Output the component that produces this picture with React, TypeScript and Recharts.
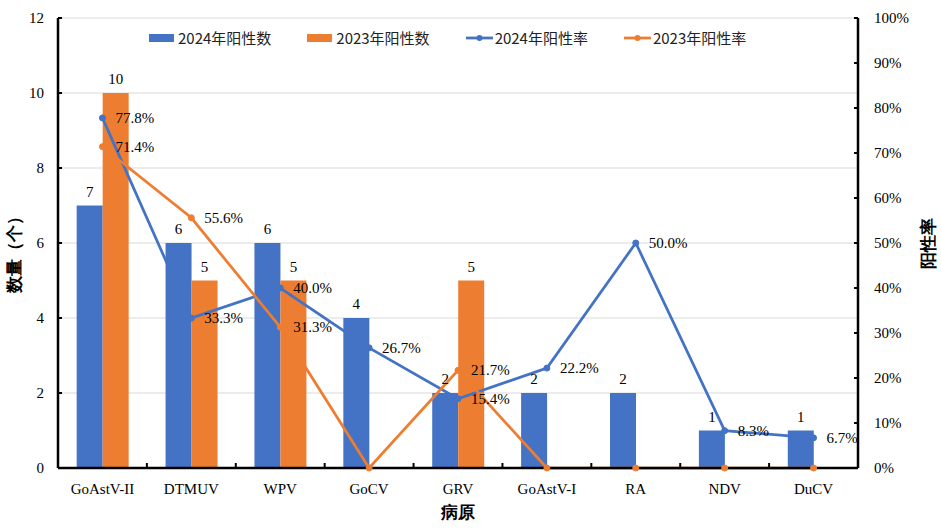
import React from 'react';
import { ComposedChart, Bar, Line, XAxis, YAxis, CartesianGrid, LabelList } from 'recharts';

const categories = ['GoAstV-II', 'DTMUV', 'WPV', 'GoCV', 'GRV', 'GoAstV-I', 'RA', 'NDV', 'DuCV'];
const count2024 = [7, 6, 6, 4, 2, 2, 2, 1, 1];
const count2023 = [10, 5, 5, 0, 5, 0, 0, 0, 0];
const rate2024 = [77.8, 33.3, 40.0, 26.7, 15.4, 22.2, 50.0, 8.3, 6.7];
const rate2023 = [71.4, 55.6, 31.3, 0, 21.7, 0, 0, 0, 0];
const countTicks = [0, 2, 4, 6, 8, 10, 12];
const rateTicks = [0, 10, 20, 30, 40, 50, 60, 70, 80, 90, 100];

const names = {
  c24: '2024年阳性数',
  c23: '2023年阳性数',
  r24: '2024年阳性率',
  r23: '2023年阳性率',
};

const data = categories.map((name, i) => ({
  name,
  c24: count2024[i],
  c23: count2023[i],
  r24: rate2024[i],
  r23: rate2023[i],
}));

const BLUE = '#4472C4';
const ORANGE = '#ED7D31';
const SERIF = '"Liberation Serif", "Times New Roman", serif';
const SANS = '"Noto Sans CJK SC", "Noto Sans", sans-serif';
const HALF_BAND = 800 / 18;

const LeftTick = (props: any) => {
  const { x, y, payload } = props;
  return (
    <g>
      <line x1={x} x2={x + 4} y1={y} y2={y} stroke="#000" strokeWidth={2} />
      <text x={x - 14} y={y + 5} textAnchor="end" style={{ fontFamily: SERIF, fontSize: 15 }} fill="#000">
        {payload.value}
      </text>
    </g>
  );
};

const RightTick = (props: any) => {
  const { x, y, payload } = props;
  return (
    <g>
      <line x1={x - 4} x2={x} y1={y} y2={y} stroke="#000" strokeWidth={2} />
      <text x={x + 16} y={y + 5} textAnchor="start" style={{ fontFamily: SERIF, fontSize: 15 }} fill="#000">
        {payload.value + '%'}
      </text>
    </g>
  );
};

const XTick = (props: any) => {
  const { x, y, payload, index } = props;
  return (
    <g>
      {index < categories.length - 1 && (
        <line x1={x + HALF_BAND} x2={x + HALF_BAND} y1={y} y2={y - 5} stroke="#000" strokeWidth={2} />
      )}
      <text x={x} y={y + 26} textAnchor="middle" style={{ fontFamily: SERIF, fontSize: 15 }} fill="#000">
        {payload.value}
      </text>
    </g>
  );
};

const BarLabel = (props: any) => {
  const { x, y, width, value } = props;
  if (!value) return null;
  return (
    <text x={x + width / 2} y={y - 9} textAnchor="middle" style={{ fontFamily: SERIF, fontSize: 15 }} fill="#000">
      {value}
    </text>
  );
};

const RateLabel = (props: any) => {
  const { x, y, value } = props;
  if (!value) return null;
  return (
    <text x={x + 13} y={y + 5} textAnchor="start" style={{ fontFamily: SERIF, fontSize: 15 }} fill="#000">
      {Number(value).toFixed(1) + '%'}
    </text>
  );
};

const LegendBox = () => {
  const items = [
    { key: 'c24', color: BLUE, type: 'rect' },
    { key: 'c23', color: ORANGE, type: 'rect' },
    { key: 'r24', color: BLUE, type: 'line' },
    { key: 'r23', color: ORANGE, type: 'line' },
  ];
  return (
    <div
      style={{
        position: 'absolute',
        left: 149,
        top: 28,
        display: 'flex',
        alignItems: 'center',
        fontFamily: SANS,
        fontSize: 15,
        color: '#222',
      }}
    >
      {items.map((it) => (
        <div key={it.key} style={{ display: 'flex', alignItems: 'center', marginRight: 36 }}>
          <svg width={27} height={12} style={{ marginRight: 2 }}>
            {it.type === 'rect' ? (
              <rect x={0} y={2} width={25} height={8} fill={it.color} />
            ) : (
              <g>
                <line x1={0} x2={27} y1={6} y2={6} stroke={it.color} strokeWidth={2.75} />
                <circle cx={13.5} cy={6} r={3} fill={it.color} />
              </g>
            )}
          </svg>
          <span style={{ lineHeight: '20px' }}>{(names as any)[it.key]}</span>
        </div>
      ))}
    </div>
  );
};

const titleStyle: React.CSSProperties = {
  position: 'absolute',
  fontFamily: SERIF,
  fontWeight: 'bold',
  fontSize: 17,
  whiteSpace: 'nowrap',
  color: '#000',
};

export default function App() {
  return (
    <div style={{ position: 'absolute', left: 0, top: 0, width: 941, height: 528, background: '#fff' }}>
      <ComposedChart
        width={941}
        height={528}
        data={data}
        margin={{ top: 18, right: 0, bottom: 0, left: 0 }}
        barGap={0}
        barCategoryGap="21%"
      >
        <CartesianGrid yAxisId="left" vertical={false} stroke="#d9d9d9" strokeWidth={1} />
        <XAxis
          dataKey="name"
          height={60}
          tickSize={0}
          tickMargin={0}
          tickLine={false}
          tick={<XTick />}
          axisLine={{ stroke: '#000', strokeWidth: 2.5 }}
          interval={0}
        />
        <YAxis
          yAxisId="left"
          orientation="left"
          width={58}
          domain={[0, 12]}
          ticks={countTicks}
          tickSize={0}
          tickMargin={0}
          tickLine={false}
          tick={<LeftTick />}
          axisLine={{ stroke: '#000', strokeWidth: 2.5 }}
          interval={0}
        />
        <YAxis
          yAxisId="right"
          orientation="right"
          width={83}
          domain={[0, 100]}
          ticks={rateTicks}
          tickSize={0}
          tickMargin={0}
          tickLine={false}
          tick={<RightTick />}
          axisLine={{ stroke: '#000', strokeWidth: 2.5 }}
          interval={0}
        />
        <Bar yAxisId="left" dataKey="c24" name={names.c24} fill={BLUE} isAnimationActive={false}>
          <LabelList dataKey="c24" content={<BarLabel />} />
        </Bar>
        <Bar yAxisId="left" dataKey="c23" name={names.c23} fill={ORANGE} isAnimationActive={false}>
          <LabelList dataKey="c23" content={<BarLabel />} />
        </Bar>
        <Line
          yAxisId="right"
          dataKey="r24"
          name={names.r24}
          stroke={BLUE}
          strokeWidth={2.75}
          dot={{ r: 3, fill: BLUE, stroke: BLUE, strokeWidth: 1 }}
          activeDot={false}
          isAnimationActive={false}
        >
          <LabelList dataKey="r24" content={<RateLabel />} />
        </Line>
        <Line
          yAxisId="right"
          dataKey="r23"
          name={names.r23}
          stroke={ORANGE}
          strokeWidth={2.75}
          dot={{ r: 3, fill: ORANGE, stroke: ORANGE, strokeWidth: 1 }}
          activeDot={false}
          isAnimationActive={false}
        >
          <LabelList dataKey="r23" content={<RateLabel />} />
        </Line>
      </ComposedChart>
      <LegendBox />
      <div style={{ ...titleStyle, left: 14, top: 250, transform: 'translate(-50%, -50%) rotate(-90deg)' }}>
        数量（个）
      </div>
      <div style={{ ...titleStyle, left: 928, top: 243, transform: 'translate(-50%, -50%) rotate(-90deg)' }}>
        阳性率
      </div>
      <div style={{ ...titleStyle, left: 458, top: 512, transform: 'translate(-50%, -50%)' }}>
        病原
      </div>
    </div>
  );
}
